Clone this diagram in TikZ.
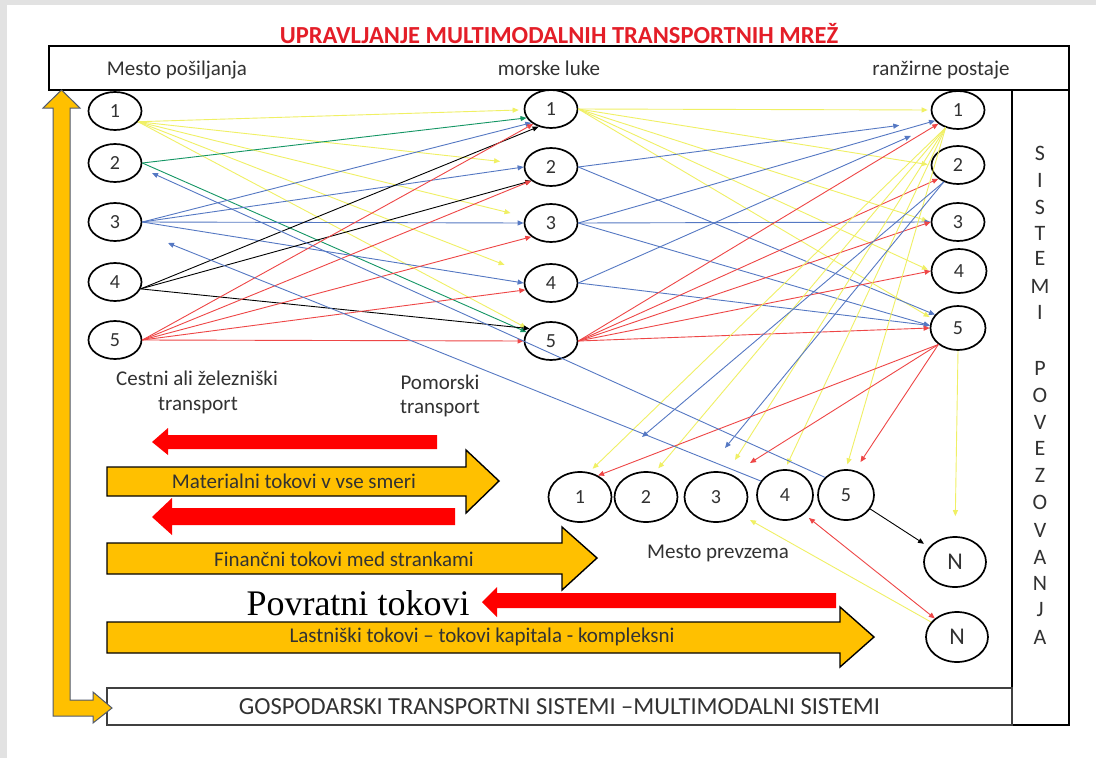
\documentclass[tikz,border=0pt]{standalone}
\usepackage{fontspec}
\setmainfont{Carlito}
\newfontfamily\serifpov{Liberation Serif}
\usetikzlibrary{arrows.meta,shapes.geometric,calc}
\definecolor{bgray}{RGB}{226,226,226}
\definecolor{ayel}{RGB}{255,192,0}
\definecolor{lyel}{RGB}{240,240,100}
\definecolor{lblue}{RGB}{85,120,195}
\definecolor{lred}{RGB}{238,70,70}
\definecolor{lgreen}{RGB}{20,150,100}
\definecolor{titlered}{RGB}{228,30,40}
\definecolor{txtgray}{RGB}{50,50,50}
\definecolor{outl}{RGB}{80,90,110}
\definecolor{bred}{RGB}{255,0,0}
\tikzset{
  pn/.style={ellipse, draw=black, line width=1.7pt, inner sep=0pt, minimum width=53pt, minimum height=38pt, text=txtgray, font=\fontsize{20}{20}\selectfont},
  pnbig/.style={pn, minimum width=55pt, minimum height=44pt},
  bn/.style={pn, minimum width=63pt, minimum height=50pt, font=\fontsize{20}{20}\selectfont},
  bns/.style={bn, minimum width=56pt},
  nn/.style={pn, minimum width=62pt, minimum height=50pt, font=\fontsize{24}{24}\selectfont},
  lbl/.style={text=txtgray, font=\fontsize{21}{25}\selectfont, inner sep=0pt},
  conn/.style={line width=0.9pt, -{Triangle[length=6pt,width=5pt]}},
  cy/.style={conn, draw=lyel},
  cb/.style={conn, draw=lblue},
  cr/.style={conn, draw=lred},
  cg/.style={conn, draw=lgreen},
  ck/.style={conn, draw=black},
  bigy/.style={fill=ayel, draw=black, line width=1.4pt, line join=miter},
  bigr/.style={fill=bred},
  boxfr/.style={draw=black, line width=1.6pt, inner sep=0pt},
}
\begin{document}
\begin{tikzpicture}[x=1pt,y=-1pt]
\useasboundingbox (0,0) rectangle (1096,758);
\fill[bgray] (0,0) rectangle (1096,758);
\fill[white] (7,5) rectangle (1096,758);

% title and frames
\node[text=titlered, font=\bfseries\fontsize{24.5}{24.5}\selectfont, inner sep=0pt] (title) at (559,35) {\underline{UPRAVLJANJE MULTIMODALNIH TRANSPORTNIH MREŽ}};
\node[boxfr, minimum width=1020pt, minimum height=44pt] (topbox) at (559,68) {};
\node[lbl, anchor=base] (h1) at (177,75) {Mesto pošiljanja};
\node[lbl, anchor=base] (h2) at (549,75) {morske luke};
\node[lbl, anchor=base] (h3) at (941,75) {ranžirne postaje};
\node[boxfr, minimum width=57pt, minimum height=635pt] (sisbox) at (1040.5,407.5) {};
\node[draw=black!75, line width=1.2pt, inner sep=0pt, minimum width=905pt, minimum height=37pt, text=txtgray, font=\fontsize{24.5}{24.5}\selectfont] (bottombox) at (559.5,706.5) {GOSPODARSKI TRANSPORTNI SISTEMI –MULTIMODALNI SISTEMI};
\foreach \ch/\yy [count=\k] in {S/153,I/180,S/207,T/233,E/258,M/286,I/312,P/368,O/395,V/422,E/448,Z/475,O/502,V/530,A/557,N/583,J/610,A/637}
  \node[lbl, font=\fontsize{22}{22}\selectfont] (sl\k) at (1040,\yy) {\ch};

% L-shaped yellow arrow
\draw[fill=ayel, draw=outl, line width=1pt, line join=miter]
  (61.5,90) -- (43,108) -- (53,108) -- (53,716) -- (93,716) -- (93,723) -- (112,708)
  -- (93,692) -- (93,700) -- (70,700) -- (70,108) -- (80,108) -- cycle;

% nodes
\foreach \i/\yy in {1/111,2/163,3/222,4/282,5/340} \node[pn] (L\i) at (115,\yy) {\i};
\foreach \i/\yy in {1/109,2/167,3/223,4/283,5/341} \node[pn] (M\i) at (551,\yy) {\i};
\foreach \i/\yy in {1/110,2/165,3/222} \node[pn] (R\i) at (958,\yy) {\i};
\node[pnbig] (R4) at (959,271) {4};
\node[pnbig] (R5) at (958,328) {5};
\node[bn] (B1) at (580,497) {1};
\node[bn] (B2) at (646,497) {2};
\node[bn] (B3) at (716,497) {3};
\node[bns] (B4) at (785,495) {4};
\node[bns] (B5) at (846,495) {5};
\node[nn] (N1) at (955,562) {N};
\node[nn] (N2) at (957,637) {N};

% free ends
\coordinate (bA) at (642,437);
\coordinate (bB) at (725,448);
\coordinate (rA) at (750,463);
\coordinate (yA) at (735,460);
\coordinate (bL2) at (152,173);
\coordinate (bL3) at (168,243);
\coordinate (yB) at (750,520);

% left -> middle
\draw[cy, shorten >=5pt] (L1.-25) -- (M1);
\draw[cy, shorten >=24pt] (L1.-25) -- (M2);
\draw[cy, shorten >=15pt] (L1.-25) -- (M3);
\draw[cy, shorten >=24pt] (L1.-25) -- (M4);
\draw[cy, shorten >=3pt] (L1.-25) -- (M5);
\draw[cg] (L2.east) -- (M1.200);
\draw[cg] (L2.east) -- (M5.160);
\draw[cb] (L3.east) -- (M1.215);
\draw[cb] (L3.east) -- (M2.west);
\draw[cb] (L3.east) -- (M3.west);
\draw[cb] (L3.east) -- (M4.west);
\draw[ck] (L4.-15) -- (M1.235);
\draw[ck] (L4.-15) -- (M2.215);
\draw[ck] (L4.-15) -- (M5.150);
\draw[cr] (L5.east) -- (M1.220);
\draw[cr] (L5.east) -- (M2.215);
\draw[cr] (L5.east) -- (M3.215);
\draw[cr] (L5.east) -- (M4.195);
\draw[cr] (L5.east) -- (M5.west);

% middle -> right
\draw[cy, shorten >=3pt] (M1.east) -- (R1.west);
\draw[cy, shorten >=3pt] (M1.east) -- (R2.west);
\draw[cy, shorten >=3pt] (M1.east) -- (R3.west);
\draw[cy, shorten >=3pt] (M1.east) -- (R4.west);
\draw[cy, shorten >=3pt] (M1.east) -- (R5.160);
\draw[cb, shorten >=36pt] (M2.east) -- (R1.205);
\draw[cb] (M2.east) -- (R5.150);
\draw[cb] (M3.east) -- (R1.205);
\draw[cb] (M3.east) -- (R3.west);
\draw[cb] (M3.east) -- (R5.175);
\draw[cb, shorten >=30pt] (M4.east) -- (R1.215);
\draw[cb] (M4.east) -- (R5.175);
\draw[cr] (M5.east) -- (R1.215);
\draw[cr] (M5.east) -- (R2.215);
\draw[cr] (M5.east) -- (R3.west);
\draw[cr] (M5.east) -- (R4.west);
\draw[cr] (M5.east) -- (R5.west);

% right -> bottom
\draw[cy, shorten >=5pt] (R1.-125) -- (B1.70);
\draw[cy, shorten >=5pt] (R1.-125) -- (B2.70);
\draw[cy] (R1.-125) -- (yA);
\draw[cy, shorten >=5pt] (R1.-125) -- (B4.north);
\draw[cy, shorten >=5pt] (R1.-125) -- (B5.north);
\draw[cb] (R2.-130) -- (bA);
\draw[cb] (R2.-130) -- (bB);
\draw[cr] (R5.-140) -- (B1.50);
\draw[cr] (R5.-140) -- (rA);
\draw[cr, shorten >=10pt] (R5.-140) -- (B5.70);
\draw[cy, shorten >=20pt] (R5.south) -- (N1.north);
\draw[ck, shorten >=6pt] (B5.-30) -- (N1.150);
\draw[cb] (B5.140) -- (bL2);
\draw[cb] (B4.150) -- (bL3);
\draw[cy] (N2.150) -- (yB);
\draw[cr, {Triangle[length=6pt,width=5pt]}-{Triangle[length=6pt,width=5pt]}, shorten <=6pt] (B4.-45) -- (N2.140);

% labels
\node[lbl] (t1) at (197,378) {Cestni ali železniški};
\node[lbl] (t2) at (198,406) {transport};
\node[lbl] (t3) at (440,382) {Pomorski};
\node[lbl] (t4) at (440,409) {transport};
\node[lbl] (t5) at (718,553) {Mesto prevzema};
\node[inner sep=0pt, font=\serifpov\fontsize{36}{36}\selectfont] (t6) at (358,603) {Povratni tokovi};

% red arrows
\fill[bigr] (437,435) -- (168,435) -- (168,428) -- (152,442) -- (168,455) -- (168,449) -- (437,449) -- cycle;
\fill[bigr] (455,508) -- (172,508) -- (172,498) -- (152,517) -- (172,535) -- (172,525) -- (455,525) -- cycle;
\fill[bigr] (836,593) -- (497,593) -- (497,587) -- (482,602) -- (497,617) -- (497,608) -- (836,608) -- cycle;

% yellow arrows
\draw[bigy] (107,467) -- (466,467) -- (466,450) -- (499,481) -- (466,513) -- (466,496) -- (107,496) -- cycle;
\node[lbl] (a1) at (294,481) {Materialni tokovi v vse smeri};
\draw[bigy] (107,543) -- (562,543) -- (562,527) -- (597,558) -- (562,590) -- (562,574) -- (107,574) -- cycle;
\node[lbl] (a2) at (344,559) {Finančni tokovi med strankami};
\draw[bigy] (107,622) -- (840,622) -- (840,607) -- (874,637) -- (840,667) -- (840,653) -- (107,653) -- cycle;
\node[lbl] (a3) at (482,637) {Lastniški tokovi – tokovi kapitala - kompleksni};
\end{tikzpicture}
\end{document}
